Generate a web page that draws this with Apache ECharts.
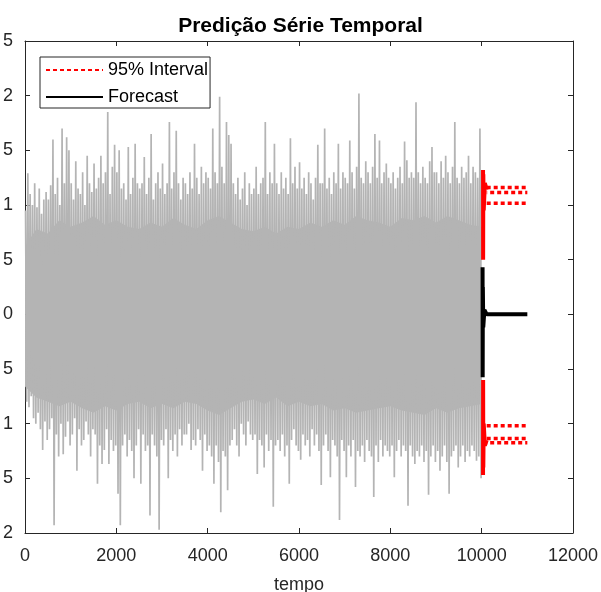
<!DOCTYPE html>
<html><head><meta charset="utf-8">
<script src="https://cdn.jsdelivr.net/npm/echarts@6/dist/echarts.min.js"></script>
<style>html,body{margin:0;padding:0;background:#fff}#c{width:601px;height:592px}</style>
</head><body><div id="c"></div>
<script>
const chartTitle = 'Predição Série Temporal';
const xAxisName = 'tempo';
const xTickValues = [0, 2000, 4000, 6000, 8000, 10000, 12000];
const yTickValues = [-2, -1.5, -1, -0.5, 0, 0.5, 1, 1.5, 2, 2.5];

const noiseBinWidth = 50;
const noiseHi = [
0.95,1.29,1.1,1.0,1.2,0.98,1.15,0.92,1.05,1.12,
1.05,1.18,1.6,1.1,1.25,1.0,1.7,1.2,1.62,1.5,
1.2,1.05,1.4,1.15,1.1,1.3,1.0,1.45,1.2,1.12,
1.38,1.15,1.25,1.45,1.2,1.3,1.85,1.1,1.35,1.55,
1.3,1.5,1.15,1.2,1.05,1.53,1.1,1.25,1.56,1.2,
1.15,1.2,1.44,1.1,1.25,1.65,1.05,1.2,1.3,1.15,
1.38,1.1,1.2,1.76,1.15,1.3,1.68,1.2,1.05,1.25,
1.2,1.1,1.3,1.15,1.56,1.25,1.1,1.35,1.2,1.3,
1.25,1.15,1.7,1.3,1.2,1.99,1.35,1.2,1.76,1.64,
1.56,1.2,1.1,1.25,1.05,1.15,1.3,1.0,1.2,1.1,
1.15,1.35,1.1,1.2,1.25,1.76,1.1,1.3,1.2,1.56,
1.2,1.1,1.3,1.15,1.25,1.1,1.61,1.2,1.35,1.15,
1.39,1.15,1.25,1.1,1.3,1.2,1.05,1.25,1.55,1.2,
1.2,1.7,1.15,1.25,1.1,1.3,1.2,1.56,1.15,1.3,
1.25,1.2,1.59,1.3,1.15,1.35,2.02,1.25,1.2,1.4,
1.3,1.2,1.35,1.65,1.25,1.59,1.2,1.3,1.38,1.25,
1.2,1.3,1.15,1.25,1.35,1.2,1.58,1.41,1.25,1.3,
1.25,1.94,1.3,1.2,1.35,1.25,1.2,1.4,1.53,1.3,
1.3,1.2,1.4,1.25,1.45,1.3,1.2,1.35,1.76,1.25,
1.2,1.35,1.25,1.3,1.45,1.2,1.35,1.3,1.25,1.7
];
const noiseLo = [
-0.8,-0.85,-0.75,-0.95,-1.0,-0.9,-1.05,-1.24,-0.98,-1.15,
-1.05,-0.95,-1.93,-1.1,-1.3,-1.0,-1.28,-1.12,-0.98,-1.2,
-1.1,-0.95,-1.43,-1.05,-1.2,-1.15,-0.98,-1.1,-1.3,-1.05,
-1.1,-1.55,-1.2,-1.37,-1.24,-1.05,-1.37,-1.15,-1.25,-1.2,
-1.64,-1.93,-1.2,-1.1,-1.3,-1.15,-1.25,-1.5,-1.2,-1.05,
-1.55,-1.1,-1.25,-1.2,-1.84,-1.1,-1.2,-1.3,-1.97,-1.15,
-1.2,-1.05,-1.5,-1.15,-1.25,-1.1,-1.3,-1.05,-1.2,-1.1,
-1.1,-1.0,-1.24,-1.15,-1.2,-1.05,-1.15,-1.43,-1.1,-1.25,
-1.2,-1.3,-1.55,-1.2,-1.35,-1.81,-1.25,-1.3,-1.61,-1.2,
-1.15,-1.05,-1.2,-1.3,-1.0,-1.1,-1.2,-0.98,-1.1,-1.15,
-1.1,-1.46,-1.15,-1.2,-1.4,-1.1,-1.25,-1.15,-1.76,-1.2,
-1.15,-1.25,-1.1,-1.3,-1.2,-1.55,-1.15,-1.05,-1.2,-1.25,
-1.33,-1.1,-1.2,-1.15,-1.3,-1.05,-1.2,-1.1,-1.25,-1.56,
-1.2,-1.1,-1.25,-1.49,-1.15,-1.2,-1.3,-1.88,-1.15,-1.25,
-1.49,-1.2,-1.3,-1.15,-1.58,-1.25,-1.3,-1.2,-1.35,-1.15,
-1.25,-1.3,-1.67,-1.2,-1.35,-1.15,-1.3,-1.2,-1.25,-1.3,
-1.2,-1.49,-1.25,-1.15,-1.3,-1.2,-1.25,-1.75,-1.2,-1.3,
-1.37,-1.25,-1.3,-1.2,-1.35,-1.25,-1.65,-1.3,-1.2,-1.35,
-1.25,-1.43,-1.3,-1.2,-1.35,-1.64,-1.3,-1.25,-1.2,-1.4,
-1.3,-1.2,-1.35,-1.25,-1.3,-1.2,-1.25,-1.34,-1.3,-1.5
];
// dense core of the observed series (edges of the solid grey band)
const coreT  = [0,250,500,750,1000,1250,1500,1750,2000,2250,2500,2750,3000,3250,3500,3750,4000,4250,4500,4750,5000,5250,5500,5750,6000,6250,6500,6750,7000,7250,7500,7750,8000,8250,8500,8750,9000,9250,9500,9750,10000];
const coreHi = [0.62,0.78,0.74,0.86,0.8,0.84,0.9,0.82,0.86,0.8,0.78,0.84,0.8,0.88,0.82,0.78,0.86,0.9,0.84,0.78,0.76,0.8,0.74,0.8,0.78,0.84,0.8,0.86,0.82,0.9,0.86,0.84,0.8,0.88,0.86,0.9,0.84,0.9,0.86,0.82,0.8];
const coreLo = [-0.66,-0.76,-0.8,-0.84,-0.8,-0.86,-0.9,-0.84,-0.88,-0.82,-0.8,-0.86,-0.82,-0.86,-0.8,-0.82,-0.88,-0.92,-0.86,-0.8,-0.78,-0.82,-0.76,-0.84,-0.8,-0.84,-0.82,-0.88,-0.86,-0.9,-0.88,-0.86,-0.84,-0.88,-0.9,-0.92,-0.86,-0.9,-0.86,-0.84,-0.82];

// forecast
const forecastT = [10020, 10022, 10026, 10035, 10060, 10110, 11000];
const forecastY = [0.43, -0.575, 0.25, -0.12, 0.04, 0, 0];
// start of the 95% interval (oscillating part)
const transientT = [10030, 10032, 10036, 10045, 10070, 10110];
const upperTransient = [1.32, 0.5, 1.28, 0.95, 1.2, 1.14];
const lowerTransient = [-1.47, -0.6, -1.4, -1.0, -1.2, -1.15];
// settled 95% interval levels
const intervalT = [10110, 11000];
const upperLevels = [1.16, 1.115, 1.015];
const lowerLevels = [-1.02, -1.135, -1.175];

const FONT = 'Liberation Sans, Arial, sans-serif';
const AX = '#262626';
const GREY = '#b4b4b4';

const noiseData = [];
for (let i = 0; i < noiseHi.length; i++) {
  noiseData.push([i * noiseBinWidth + 12, noiseHi[i]]);
  noiseData.push([i * noiseBinWidth + 37, noiseLo[i]]);
}
const zip = (a, b) => a.map((v, i) => [v, b[i]]);

const dotted = (lvl, offset) => ({
  name: '95% Interval', type: 'line', data: intervalT.map(t => [t, lvl]), symbol: 'none', animation: false,
  itemStyle: { color: '#ff0000', opacity: 0 },
  lineStyle: { color: '#ff0000', width: 3.5, type: [4, 3], dashOffset: offset, cap: 'butt' }
});

const series = [
  { name: 'core+', type: 'line', data: zip(coreT, coreHi), symbol: 'none', animation: false,
    lineStyle: { width: 0 }, areaStyle: { color: GREY, opacity: 1 }, silent: true },
  { name: 'core-', type: 'line', data: zip(coreT, coreLo), symbol: 'none', animation: false,
    lineStyle: { width: 0 }, areaStyle: { color: GREY, opacity: 1 }, silent: true },
  { name: 'Série', type: 'line', data: noiseData, symbol: 'none', animation: false, sampling: null,
    lineStyle: { color: GREY, width: 1.7 }, silent: true },
  dotted(upperLevels[0], 0), dotted(upperLevels[1], 3.5), dotted(upperLevels[2], 0),
  dotted(lowerLevels[0], 0), dotted(lowerLevels[1], 0), dotted(lowerLevels[2], 3.5),
  { name: '95% Interval', type: 'line', data: zip(transientT, upperTransient), symbol: 'none', animation: false,
    itemStyle: { color: '#ff0000', opacity: 0 }, lineStyle: { color: '#ff0000', width: 4 } },
  { name: '95% Interval', type: 'line', data: zip(transientT, lowerTransient), symbol: 'none', animation: false,
    itemStyle: { color: '#ff0000', opacity: 0 }, lineStyle: { color: '#ff0000', width: 4 } },
  { name: 'Forecast', type: 'line', data: zip(forecastT, forecastY), symbol: 'none', animation: false,
    itemStyle: { color: '#000000', opacity: 0 }, lineStyle: { color: '#000000', width: 4 } }
];

const xMin = xTickValues[0], xMax = xTickValues[xTickValues.length - 1], xInt = xTickValues[1] - xTickValues[0];
const yMin = yTickValues[0], yMax = yTickValues[yTickValues.length - 1], yInt = yTickValues[1] - yTickValues[0];
const tick = { show: true, inside: true, length: 5, lineStyle: { color: AX } };
const line = { show: true, onZero: false, lineStyle: { color: AX, width: 1 } };
// the reference picture is cropped on the left: only the last character of each y label is visible
const yLabel = v => String(v).slice(-1);

const chart = echarts.init(document.getElementById('c'), null, { renderer: 'canvas' });
chart.setOption({
  animation: false,
  backgroundColor: '#ffffff',
  title: { text: chartTitle, left: 'center', top: 11,
    textStyle: { fontFamily: FONT, fontSize: 21, fontWeight: 'bold', color: '#000' } },
  legend: {
    data: ['95% Interval', 'Forecast'], orient: 'vertical', left: 40, top: 57,
    padding: [2, 2, 0, 5], itemWidth: 57, itemHeight: 14, itemGap: 5,
    itemStyle: { opacity: 0 },
    backgroundColor: '#ffffff', borderColor: AX, borderWidth: 1, selectedMode: false,
    textStyle: { fontFamily: FONT, fontSize: 18, color: '#000', lineHeight: 22 }, z: 10
  },
  grid: { left: 25, right: 28, top: 41, bottom: 59, containLabel: false, outerBoundsMode: 'none' },
  xAxis: [
    { type: 'value', min: xMin, max: xMax, interval: xInt, position: 'bottom',
      axisLine: line, axisTick: tick, splitLine: { show: false },
      axisLabel: { fontFamily: FONT, fontSize: 18, color: AX, margin: 14, formatter: v => String(v) },
      name: xAxisName, nameLocation: 'middle', nameGap: 43,
      nameTextStyle: { fontFamily: FONT, fontSize: 18, color: AX } },
    { type: 'value', min: xMin, max: xMax, interval: xInt, position: 'top',
      axisLine: line, axisTick: tick, splitLine: { show: false }, axisLabel: { show: false } }
  ],
  yAxis: [
    { type: 'value', min: yMin, max: yMax, interval: yInt, position: 'left',
      axisLine: line, axisTick: tick, splitLine: { show: false },
      axisLabel: { fontFamily: FONT, fontSize: 18, color: AX, margin: 12, formatter: yLabel } },
    { type: 'value', min: yMin, max: yMax, interval: yInt, position: 'right',
      axisLine: line, axisTick: tick, splitLine: { show: false }, axisLabel: { show: false } }
  ],
  series: series
});
</script></body></html>
